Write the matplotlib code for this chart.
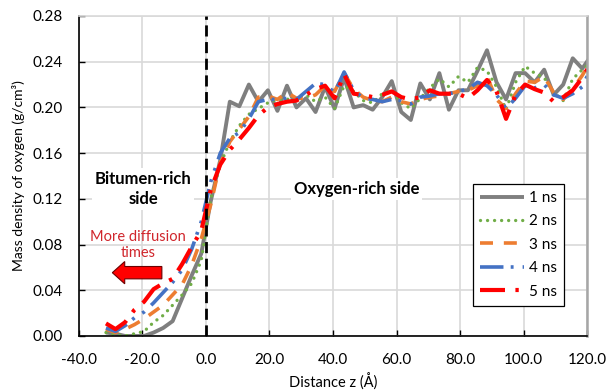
import matplotlib
matplotlib.use('Agg')
import matplotlib.pyplot as plt
from matplotlib.patches import FancyArrow

plt.rcParams['font.family'] = ['Lato', 'DejaVu Sans']

# distance z (Å)
z = [-31.5, -28.5, -25.5, -22.5, -19.5, -16.5, -13.5, -10.5, -7.5, -4.5,
     -1.5, 1.5, 4.5, 7.5, 10.5, 13.5, 16.5, 19.5, 22.5, 25.5,
     28.5, 31.5, 34.5, 37.5, 40.5, 43.5, 46.5, 49.5, 52.5, 55.5,
     58.5, 61.5, 64.5, 67.5, 70.5, 73.5, 76.5, 79.5, 82.5, 85.5,
     88.5, 91.5, 94.5, 97.5, 100.5, 103.5, 106.5, 109.5, 112.5, 115.5,
     118.5, 121.5]

# mass density of oxygen (g/cm3)
ns1 = [0.003, 0.002, 0.000, 0.000, 0.000, 0.003, 0.007, 0.013, 0.033, 0.053,
       0.072, 0.118, 0.154, 0.205, 0.201, 0.220, 0.205, 0.215, 0.197, 0.219,
       0.200, 0.208, 0.196, 0.218, 0.199, 0.226, 0.200, 0.202, 0.198, 0.209,
       0.223, 0.196, 0.189, 0.221, 0.207, 0.230, 0.198, 0.215, 0.215, 0.232,
       0.250, 0.222, 0.207, 0.230, 0.230, 0.222, 0.233, 0.211, 0.220, 0.243,
       0.234, 0.246]
ns2 = [0.003, 0.001, 0.000, 0.002, 0.004, 0.012, 0.018, 0.027, 0.036, 0.046,
       0.066, 0.120, 0.150, 0.170, 0.184, 0.194, 0.199, 0.204, 0.207, 0.207,
       0.209, 0.211, 0.205, 0.209, 0.199, 0.219, 0.214, 0.206, 0.204, 0.212,
       0.215, 0.204, 0.199, 0.208, 0.217, 0.225, 0.218, 0.227, 0.222, 0.235,
       0.232, 0.218, 0.198, 0.222, 0.236, 0.230, 0.226, 0.213, 0.206, 0.225,
       0.233, 0.240]
ns3 = [0.006, 0.003, 0.006, 0.010, 0.015, 0.021, 0.027, 0.036, 0.045, 0.062,
       0.085, 0.115, 0.152, 0.170, 0.181, 0.192, 0.209, 0.210, 0.207, 0.213,
       0.208, 0.208, 0.211, 0.219, 0.214, 0.230, 0.216, 0.209, 0.206, 0.205,
       0.209, 0.205, 0.203, 0.207, 0.209, 0.210, 0.212, 0.214, 0.215, 0.219,
       0.227, 0.207, 0.199, 0.212, 0.223, 0.222, 0.227, 0.213, 0.207, 0.216,
       0.228, 0.242]
ns4 = [0.007, 0.004, 0.009, 0.016, 0.021, 0.029, 0.038, 0.047, 0.058, 0.076,
       0.100, 0.135, 0.160, 0.173, 0.178, 0.190, 0.205, 0.207, 0.207, 0.208,
       0.207, 0.214, 0.221, 0.220, 0.213, 0.231, 0.215, 0.208, 0.207, 0.205,
       0.207, 0.206, 0.203, 0.209, 0.210, 0.212, 0.212, 0.214, 0.216, 0.222,
       0.219, 0.211, 0.199, 0.208, 0.219, 0.217, 0.220, 0.211, 0.208, 0.212,
       0.218, 0.236]
ns5 = [0.011, 0.006, 0.012, 0.023, 0.030, 0.041, 0.046, 0.050, 0.063, 0.078,
       0.092, 0.128, 0.150, 0.163, 0.172, 0.182, 0.193, 0.200, 0.203, 0.205,
       0.206, 0.211, 0.216, 0.219, 0.208, 0.229, 0.212, 0.211, 0.209, 0.211,
       0.214, 0.209, 0.207, 0.209, 0.215, 0.212, 0.212, 0.212, 0.208, 0.215,
       0.224, 0.214, 0.190, 0.211, 0.220, 0.216, 0.213, 0.205, 0.209, 0.215,
       0.226, 0.240]

series = [ns1, ns2, ns3, ns4, ns5]
labels = ['1 ns', '2 ns', '3 ns', '4 ns', '5 ns']
colors = ['#7f7f7f', '#70ad47', '#ed7d31', '#4472c4', '#ff0000']
styles = ['-', (0, (0.01, 2.1)), (0, (3.6, 3.0)),
          (0, (6.5, 2.0, 0.8, 2.5, 0.8, 2.5)), (0, (6.0, 2.5, 0.8, 2.5))]
widths = [2.8, 2.4, 2.6, 2.6, 3.0]
caps = ['butt', 'round', 'butt', 'butt', 'butt']

fig = plt.figure(figsize=(6.09, 3.91), dpi=100)
ax = fig.add_axes([0.1297, 0.1407, 0.8342, 0.8184])

for y, lab, c, ls, lw, cap in zip(series, labels, colors, styles, widths, caps):
    ax.plot(z, y, color=c, linestyle=ls, lw=lw, label=lab,
            dash_capstyle=cap, solid_capstyle='butt')

ax.axvline(0, color='black', lw=2, linestyle=(0, (4, 2)), zorder=6)

ax.set_xlim(-40, 120)
ax.set_ylim(0, 0.28)
ax.set_xticks(range(-40, 121, 20))
ax.set_xticklabels([f'{v:.1f}' for v in range(-40, 121, 20)])
ax.set_yticks([i * 0.04 for i in range(8)])
ax.set_yticklabels([f'{i * 0.04:.2f}' for i in range(8)])
ax.grid(True, color='#d9d9d9', lw=1.2)
ax.set_axisbelow(True)
ax.tick_params(labelsize=11, length=4, width=1, direction='in', pad=12)

for s in ['left', 'bottom']:
    ax.spines[s].set_color('black')
    ax.spines[s].set_linewidth(1.2)
ax.spines['top'].set_color('#d9d9d9')
ax.spines['top'].set_linewidth(1.2)
ax.spines['right'].set_color('#a6a6a6')
ax.spines['right'].set_linewidth(1.8)

ax.set_xlabel('Distance z (Å)', fontsize=10.5, labelpad=5)
ax.set_ylabel('Mass density of oxygen (g/cm³)', fontsize=10, labelpad=5)

box = dict(facecolor='white', edgecolor='none', pad=2)
ax.text(-19.8, 0.1286, 'Bitumen-rich\nside', ha='center', va='center',
        fontsize=12, fontweight='bold', linespacing=1.3, bbox=box, zorder=5)
ax.text(47.5, 0.1286, 'Oxygen-rich side', ha='center', va='center',
        fontsize=12, fontweight='bold', bbox=box, zorder=5)
ax.text(-21.4, 0.0796, 'More diffusion\ntimes', ha='center', va='center',
        fontsize=10.5, color='#d0262c', linespacing=1.25, zorder=5)
ax.add_patch(FancyArrow(-13.9, 0.0554, -11.7, 0, width=0.0108,
                        head_width=0.0195, head_length=3.9,
                        length_includes_head=False, facecolor='#ff0000',
                        edgecolor='#6b0000', lw=0.8, zorder=5))

leg = ax.legend(loc='upper left', bbox_to_anchor=(0.7756, 0.475),
                borderaxespad=0, fontsize=11, handlelength=2.9,
                labelspacing=0.62, handletextpad=0.3, borderpad=0.45,
                fancybox=False, framealpha=1)
leg.get_frame().set_edgecolor('black')
leg.get_frame().set_linewidth(0.9)
leg.set_zorder(7)

fig.savefig('out.png', dpi=100)
